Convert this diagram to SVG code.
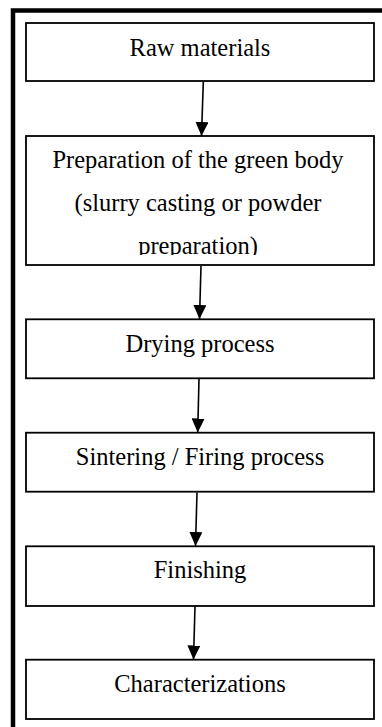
<svg xmlns="http://www.w3.org/2000/svg" width="382" height="727" viewBox="0 0 382 727">
<style>
.box{fill:#fff;stroke:#000;stroke-width:1.8}
.t{font-family:"Liberation Serif","Times New Roman",serif;font-size:24.5px;fill:#000;text-anchor:middle}
.c{stroke:#000;stroke-width:1.6;fill:none}
</style>
<defs>
<marker id="ah" markerUnits="userSpaceOnUse" markerWidth="14" markerHeight="13" refX="14" refY="6.5" orient="auto">
<path d="M0,0 L14,6.5 L0,13 z" fill="#000"/>
</marker>
<clipPath id="clip2"><rect x="26" y="136" width="348" height="119"/></clipPath>
</defs>
<rect width="382" height="727" fill="#fff"/>
<path d="M13,727 V10.5 H382" fill="none" stroke="#000" stroke-width="4.5"/>
<g id="n1"><rect class="box" x="26" y="23" width="348" height="58"/><text class="t" x="200" y="56">Raw materials</text></g>
<g id="n2"><rect class="box" x="26" y="136" width="348" height="129"/>
<g clip-path="url(#clip2)"><text class="t" x="198" y="168">Preparation of the green body</text><text class="t" x="198" y="211">(slurry casting or powder</text><text class="t" x="198" y="254">preparation)</text></g></g>
<g id="n3"><rect class="box" x="26" y="319.3" width="348" height="59"/><text class="t" x="200" y="352">Drying process</text></g>
<g id="n4"><rect class="box" x="26" y="432.7" width="348" height="59"/><text class="t" x="200" y="465">Sintering / Firing process</text></g>
<g id="n5"><rect class="box" x="26" y="546.3" width="348" height="59.7"/><text class="t" x="200" y="578">Finishing</text></g>
<g id="n6"><rect class="box" x="26" y="659.7" width="348" height="59.3"/><text class="t" x="200" y="691.5">Characterizations</text></g>
<g id="connectors">
<line class="c" x1="203.3" y1="82" x2="201.5" y2="136" marker-end="url(#ah)"/>
<line class="c" x1="201" y1="266" x2="199.5" y2="319" marker-end="url(#ah)"/>
<line class="c" x1="199" y1="379" x2="197.7" y2="432.5" marker-end="url(#ah)"/>
<line class="c" x1="197" y1="492.5" x2="195.5" y2="546" marker-end="url(#ah)"/>
<line class="c" x1="195" y1="606.5" x2="193.5" y2="659.5" marker-end="url(#ah)"/>
</g>
</svg>
